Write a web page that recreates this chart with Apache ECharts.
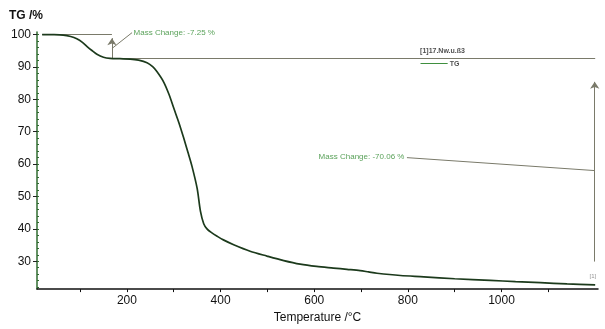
<!DOCTYPE html>
<html>
<head>
<meta charset="utf-8">
<script src="https://cdn.jsdelivr.net/npm/echarts@6/dist/echarts.min.js"></script>
<style>
  html, body { margin: 0; padding: 0; background: #fff; }
  #chart { width: 605px; height: 329px; }
</style>
</head>
<body>
<div id="chart"></div>
<script>
// TG curve
const temperature = [19, 40, 64, 80, 93, 105, 115, 126, 136, 150, 164, 185, 207, 225, 243, 255, 264, 278, 290, 300, 311, 321, 330, 339, 350, 357, 364, 371, 380, 394, 406, 428, 463, 499, 535, 570, 605, 641, 670, 698, 716, 734, 784, 834, 900, 976, 1030, 1083, 1140, 1200]
const tg = [100, 99.98, 99.85, 99.4, 98.7, 97.6, 96.3, 95.0, 93.9, 93.0, 92.65, 92.55, 92.45, 92.1, 91.3, 90.1, 88.6, 85.5, 81.5, 77.3, 72.8, 68.2, 63.8, 59.3, 52.5, 45.5, 41.6, 40.0, 38.9, 37.6, 36.6, 35.1, 33.1, 31.6, 30.2, 29.1, 28.4, 27.9, 27.5, 27.1, 26.7, 26.3, 25.6, 25.2, 24.6, 24.1, 23.7, 23.4, 23.0, 22.7]

const yLabels = [30, 40, 50, 60, 70, 80, 90, 100]
const yMinorTicks = [22, 24, 26, 28, 30, 32, 34, 36, 38, 40, 42, 44, 46, 48, 50, 52, 54, 56, 58, 60, 62, 64, 66, 68, 70, 72, 74, 76, 78, 80, 82, 84, 86, 88, 90, 92, 94, 96, 98, 100]
const xLabels = [200, 400, 600, 800, 1000]
const xTicks = [100, 200, 300, 400, 500, 600, 700, 800, 900, 1000, 1100]

// annotation values (data units)
const step1 = { from: 19, at: 168, top: 100, bottom: 92.6, arrowTop: 98.9, text: 'Mass Change: -7.25 %' }
const step2 = { at: 1199, bottom: 29.9, top: 85.4, text: 'Mass Change: -70.06 %' }
const plateau = 92.6
const xMin = 8, xMax = 1206, yMin = 21.4, yMax = 100.8

const chart = echarts.init(document.getElementById('chart'))
const annoGray = '#7a7a6a'
const textGreen = '#2f8a2f'

const option = {
  animation: false,
  grid: { left: 37, right: 7, top: 32, bottom: 33 },
  xAxis: {
    type: 'value', min: xMin, max: xMax,
    name: 'Temperature /°C', nameLocation: 'middle', nameGap: 19,
    nameTextStyle: { color: '#111', fontSize: 12, fontFamily: 'Liberation Sans' },
    axisLine: { lineStyle: { color: '#111', width: 1.5 } },
    axisTick: { show: true, inside: false, length: 3, customValues: xTicks, lineStyle: { color: '#111' } },
    axisLabel: { customValues: xLabels, formatter: v => String(v), color: '#111', fontSize: 12, fontFamily: 'Liberation Sans', margin: 6 },
    splitLine: { show: false }
  },
  yAxis: [
    {
      type: 'value', min: yMin, max: yMax,
      name: 'TG /%', nameLocation: 'end', nameGap: 10,
      nameTextStyle: { color: '#111', fontSize: 12, fontWeight: 'bold', fontFamily: 'Liberation Sans', align: 'center', padding: [0, 0, 0, -22] },
      axisLine: { show: true, lineStyle: { color: '#2f6b2f', width: 1.5 } },
      axisTick: { show: true, length: 4, customValues: yLabels, lineStyle: { color: '#222' } },
      axisLabel: { customValues: yLabels, color: '#111', fontSize: 12, fontFamily: 'Liberation Sans', margin: 6 },
      splitLine: { show: false }
    },
    {
      type: 'value', min: yMin, max: yMax, position: 'left',
      axisLine: { show: false },
      axisTick: { show: true, inside: true, length: 2, customValues: yMinorTicks, lineStyle: { color: '#2f6b2f' } },
      axisLabel: { show: false },
      splitLine: { show: false }
    }
  ],
  series: [
    {
      type: 'line', name: 'TG', showSymbol: false, smooth: 0.3,
      data: temperature.map((t, i) => [t, tg[i]]),
      lineStyle: { color: '#1c3a1c', width: 1.7 },
      z: 5
    },
    {
      // plateau baseline and leader lines
      type: 'line', data: [], silent: true,
      markLine: {
        symbol: 'none', silent: true, animation: false,
        lineStyle: { color: annoGray, width: 1, type: 'solid' },
        label: { show: false },
        data: [
          [{ coord: [step1.at - 5, plateau] }, { coord: [1200, plateau] }],
          [{ coord: [step1.from, step1.top] }, { coord: [step1.at, step1.top] }],
          [{ coord: [step1.at, 95.7] }, { coord: [211, 100.6] }],
          [{ coord: [798, 62] }, { coord: [step2.at, 58] }],
          [{ coord: [827, 91.3], lineStyle: { color: '#3f8f3f' } }, { coord: [885, 91.3] }]
        ]
      }
    },
    {
      // arrows
      type: 'line', data: [], silent: true,
      markLine: {
        symbol: ['none', 'arrow'], symbolSize: 7, silent: true,
        lineStyle: { color: annoGray, width: 1, type: 'solid' },
        label: { show: false },
        data: [
          [{ coord: [step1.at, step1.bottom] }, { coord: [step1.at, step1.arrowTop] }],
          [{ coord: [step2.at, step2.bottom] }, { coord: [step2.at, step2.top] }]
        ]
      }
    },
    {
      type: 'scatter', symbolSize: 1, silent: true, clip: false,
      itemStyle: { color: 'rgba(0,0,0,0)' },
      data: [
        { value: [211, 100.6], label: { formatter: step1.text, position: 'right', distance: 1, color: textGreen, fontSize: 8 } },
        { value: [798, 62.2], label: { formatter: step2.text, position: 'left', distance: 2, color: textGreen, fontSize: 8 } },
        { value: [825, 94.9], label: { formatter: '[1]17.Nw.u.ß3', position: 'right', distance: 0, color: '#222', fontSize: 7, fontWeight: 'bold' } },
        { value: [886, 91.0], label: { formatter: 'TG', position: 'right', distance: 1, color: '#222', fontSize: 7, fontWeight: 'bold' } },
        { value: [1187, 25.2], label: { formatter: '[1]', position: 'right', distance: 0, color: '#777', fontSize: 6 } }
      ],
      label: { show: true, fontFamily: 'Liberation Sans' }
    }
  ]
}

chart.setOption(option)
</script>
</body>
</html>
